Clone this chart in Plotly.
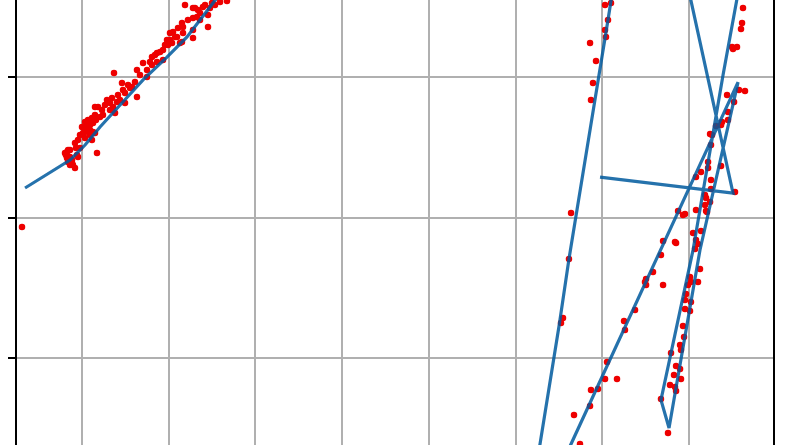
import plotly.graph_objects as go

# observed data points (left cluster)
left_x = [0.308, 0.804, 0.827, 0.839, 0.862, 0.885, 0.919, 0.839, 0.942, 0.977, 0.862, 1.173, 0.896, 0.827,
          0.885, 0.954, 0.919, 1.000, 1.035, 1.069, 1.092, 1.127, 1.150, 1.185, 1.208, 1.242, 1.288, 1.323,
          1.358, 1.381, 1.404, 1.438, 1.496, 1.369, 1.461, 1.473, 1.554, 1.611, 1.634, 1.634, 1.704, 1.750,
          1.807, 1.842, 1.865, 1.980, 2.015, 2.050, 2.096, 2.153, 2.165, 2.130, 2.188, 2.280, 2.280, 2.280,
          2.326, 2.361, 2.395, 2.453, 2.476, 2.534, 2.672, 1.807, 1.577, 1.496, 1.323, 1.069, 1.115, 1.127,
          1.058, 1.092, 1.012, 1.035, 1.150, 1.115, 0.954, 2.073, 2.107, 2.165, 2.280, 2.453, 2.038, 1.992,
          1.934, 1.934, 1.865, 1.750, 2.419, 2.499, 2.303, 2.361, 2.015, 2.153,
          1.035, 1.092, 1.161, 1.231, 1.265, 1.346, 1.415, 0.977, 0.931, 0.815, 0.862, 1.069, 1.150, 1.531,
          1.669, 1.784, 1.900, 1.957, 2.222, 2.338, 2.592]
left_y = [1.932, 2.459, 2.466, 2.480, 2.431, 2.388, 2.352, 2.395, 2.445, 2.495, 2.480, 2.459, 2.374, 2.424,
          2.409, 2.552, 2.530, 2.644, 2.609, 2.673, 2.587, 2.609, 2.786, 2.786, 2.715, 2.730, 2.836, 2.815,
          2.786, 2.744, 2.822, 2.836, 2.815, 3.028, 2.957, 2.907, 2.922, 2.964, 2.858, 3.050, 3.100, 3.000,
          3.142, 3.157, 3.107, 3.263, 3.313, 3.320, 3.285, 3.384, 3.313, 3.242, 3.512, 3.491, 3.420, 3.278,
          3.427, 3.455, 3.498, 3.441, 3.491, 3.512, 3.541, 3.085, 2.929, 2.886, 2.765, 2.694, 2.708, 2.673,
          2.644, 2.623, 2.601, 2.566, 2.601, 2.552, 2.431, 3.285, 3.349, 3.356, 3.335, 3.356, 3.242, 3.228,
          3.192, 3.121, 3.171, 3.050, 3.512, 3.527, 3.491, 3.406, 3.263, 3.249,
          2.680, 2.658, 2.694, 2.765, 2.801, 2.850, 2.872, 2.587, 2.495, 2.445, 2.374, 2.623, 2.730, 2.943,
          3.014, 3.107, 3.178, 3.228, 3.406, 3.477, 3.534]

# observed data points (right cluster)
right_x = [7.032, 7.101, 7.066, 7.032, 7.043, 6.859, 6.928, 6.893, 6.870, 8.623, 8.612, 8.600, 8.497, 8.554,
           8.508, 8.646, 8.577, 8.439, 8.520, 8.450, 8.370, 8.312, 8.450, 8.243, 8.254, 8.220, 8.370, 8.220,
           8.139, 8.081, 8.254, 8.254, 8.531, 8.185, 8.197, 8.243, 8.185, 6.640, 7.874, 7.954, 8.081, 8.197,
           6.616, 6.547, 6.524, 7.701, 7.839, 7.851, 7.677, 7.585, 7.505, 7.493, 7.505, 7.701, 7.378, 7.251,
           7.262, 7.055, 7.032, 7.170, 6.951, 6.870, 6.859, 6.674, 6.743, 8.047, 8.139, 8.081, 8.104, 8.070,
           8.127, 8.012, 8.023, 8.104, 7.989, 7.966, 7.954, 8.023, 7.954, 8.012, 7.931, 7.943, 7.897, 7.908,
           7.793, 7.851, 7.897, 7.827, 7.908, 7.781, 7.839, 7.851, 7.677, 7.758, 8.381, 8.266, 8.208, 7.931]
right_y = [3.512, 3.527, 3.406, 3.335, 3.285, 3.242, 3.114, 2.957, 2.836, 3.491, 3.384, 3.342, 3.214, 3.214,
           3.199, 2.900, 2.907, 2.872, 2.822, 2.751, 2.658, 2.651, 2.694, 2.594, 2.516, 2.395, 2.367, 2.352,
           2.324, 2.288, 2.267, 2.203, 2.182, 2.160, 2.139, 2.110, 2.089, 2.032, 2.046, 2.025, 2.053, 2.046,
           1.705, 1.285, 1.249, 1.833, 1.826, 1.819, 1.733, 1.612, 1.562, 1.541, 1.520, 1.520, 1.342, 1.263,
           1.199, 0.972, 0.851, 0.851, 0.779, 0.772, 0.658, 0.594, 0.388, 1.890, 1.904, 1.840, 1.811, 1.776,
           1.633, 1.577, 1.541, 1.541, 1.520, 1.456, 1.413, 1.399, 1.349, 1.335, 1.228, 1.149, 1.093, 1.057,
           1.036, 0.943, 0.922, 0.879, 0.851, 0.808, 0.794, 0.765, 0.708, 0.466, 2.680, 2.587, 2.039, 2.018]

# fitted / predicted path (in data order)
fit_x = [0.343, 0.596, 0.862, 1.035, 1.208, 1.450, 1.704, 1.980, 2.211, 2.511, 2.765,
         7.193, 7.066, 6.616, 6.507, 6.178, 6.340, 6.640, 8.566, 8.127, 7.770, 7.677,
         8.047, 8.393, 8.646, 7.908, 8.023, 8.508, 6.974]
fit_y = [2.210, 2.310, 2.409, 2.516, 2.644, 2.808, 2.979, 3.142, 3.285, 3.527, 3.726,
         3.904, 3.406, 1.705, 1.249, -0.011, -0.011, 0.388, 2.964, 1.769, 0.502, 0.701,
         1.769, 3.014, 3.868, 3.868, 3.548, 2.174, 2.288]

X_RANGE = [0.2504, 8.969]
Y_RANGE = [0.381, 3.548]

fig = go.Figure()
fig.add_trace(go.Scatter(x=left_x + right_x, y=left_y + right_y, mode="markers",
                         marker=dict(color="#ee0000", size=6.5, line=dict(width=0)),
                         hoverinfo="skip"))
fig.add_trace(go.Scatter(x=fit_x, y=fit_y, mode="lines",
                         line=dict(color="#005a9e", width=3.2),
                         opacity=0.85, hoverinfo="skip"))

fig.update_layout(
    width=792, height=445,
    margin=dict(l=17, r=19, t=0, b=0, pad=0),
    paper_bgcolor="white", plot_bgcolor="white",
    showlegend=False,
)
fig.update_xaxes(range=X_RANGE, tick0=0, dtick=1, showgrid=True, gridcolor="#b0b0b0", gridwidth=1.6,
                 showticklabels=False, ticks="", showline=False, zeroline=False)
fig.update_yaxes(range=Y_RANGE, tick0=0, dtick=1, showgrid=True, gridcolor="#b0b0b0", gridwidth=1.6,
                 showticklabels=False, ticks="outside", ticklen=7, tickwidth=1.6, tickcolor="black",
                 showline=True, mirror=True, linecolor="black", linewidth=1.8, zeroline=False)

fig.write_html("out.html", config={"displayModeBar": False},
               post_script="document.body.style.margin='0';document.body.style.overflow='hidden';")
